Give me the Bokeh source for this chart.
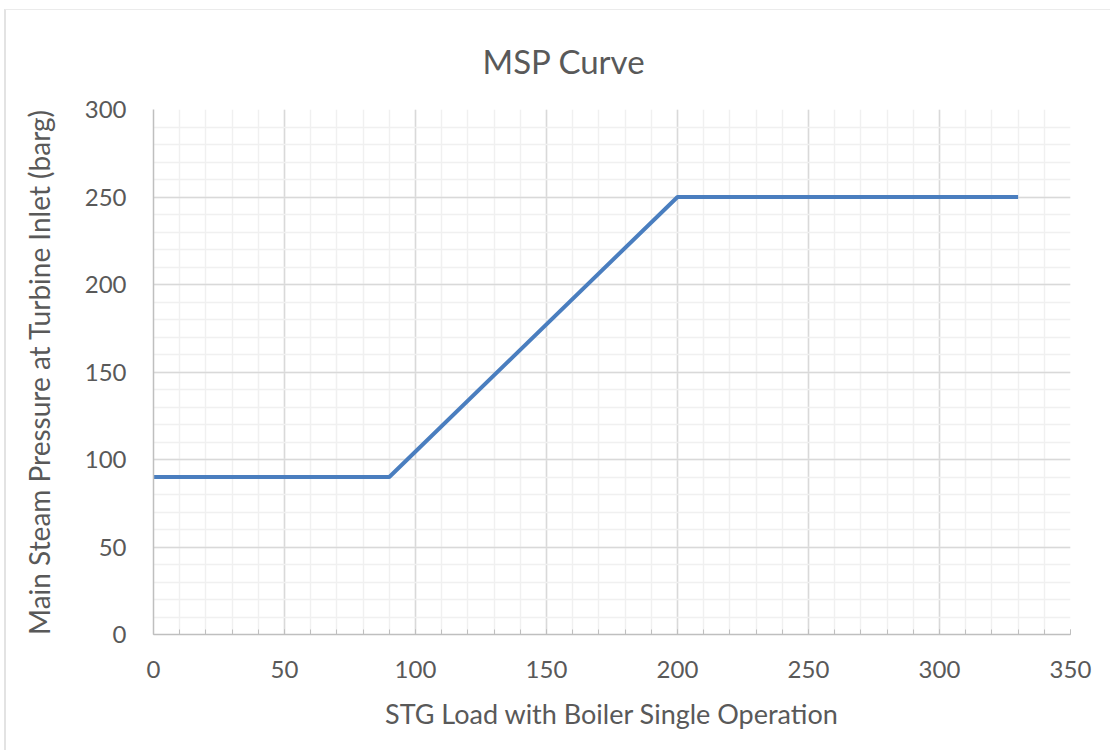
from bokeh.plotting import figure
from bokeh.embed import file_html
from bokeh.resources import INLINE
from bokeh.models import FixedTicker

# Data
stg_load = [0, 90, 200, 330]
pressure = [90, 90, 250, 250]
x_ticks = [0, 50, 100, 150, 200, 250, 300, 350]
y_ticks = [0, 50, 100, 150, 200, 250, 300]
x_minor = list(range(0, 351, 10))
y_minor = list(range(0, 301, 10))

FONT = "Lato"
TXT = "#595959"

p = figure(width=1104, height=740, output_backend="svg", toolbar_location=None,
           x_range=(0, 350), y_range=(0, 300),
           min_border_left=147, min_border_right=40, min_border_top=99, min_border_bottom=116,
           frame_width=917, frame_height=525, title="MSP Curve")
p.margin = (9, 0, 0, 4)
p.styles = {"border-left": "2px solid #e3e3e3", "border-top": "1px solid #ebebeb", "box-sizing": "border-box"}

p.title.text_font = FONT
p.title.text_font_size = "33px"
p.title.text_font_style = "normal"
p.title.text_color = TXT
p.title.align = "left"
p.title.offset = 329
p.title.standoff = 54
p.title.vertical_align = "top"

p.outline_line_color = None
p.background_fill_color = "white"
p.border_fill_color = "white"

p.xaxis.ticker = FixedTicker(ticks=x_ticks, minor_ticks=x_minor)
p.yaxis.ticker = FixedTicker(ticks=y_ticks, minor_ticks=y_minor)

for ax in (p.xaxis[0], p.yaxis[0]):
    ax.axis_line_color = "#bfbfbf"
    ax.axis_line_width = 1.5
    ax.major_label_text_font = FONT
    ax.major_label_text_font_size = "24px"
    ax.major_label_text_color = TXT
    ax.axis_label_text_font = FONT
    ax.axis_label_text_font_style = "normal"
    ax.axis_label_text_color = TXT

p.xaxis.axis_label_text_font_size = "27px"
p.yaxis.axis_label_text_font_size = "28px"

p.xaxis.major_tick_in = 5
p.xaxis.major_tick_out = 0
p.xaxis.minor_tick_in = 5
p.xaxis.minor_tick_out = 0
p.xaxis.major_tick_line_color = "#bfbfbf"
p.xaxis.minor_tick_line_color = "#bfbfbf"
p.xaxis.major_label_standoff = 26
p.xaxis.axis_label = "STG Load with Boiler Single Operation"
p.xaxis.axis_label_standoff = 16

p.yaxis.major_tick_line_color = None
p.yaxis.minor_tick_line_color = None
p.yaxis.major_label_standoff = 21
p.yaxis.axis_label = "Main Steam Pressure at Turbine Inlet (barg)"
p.yaxis.axis_label_standoff = 26

p.grid.grid_line_color = "#d9d9d9"
p.grid.grid_line_width = 1.5
p.grid.minor_grid_line_color = "#f0f0f0"
p.grid.minor_grid_line_width = 1.5

p.line(stg_load, pressure, line_color="#4a7ebf", line_width=4)

open("out.html", "w").write(file_html(p, INLINE))
